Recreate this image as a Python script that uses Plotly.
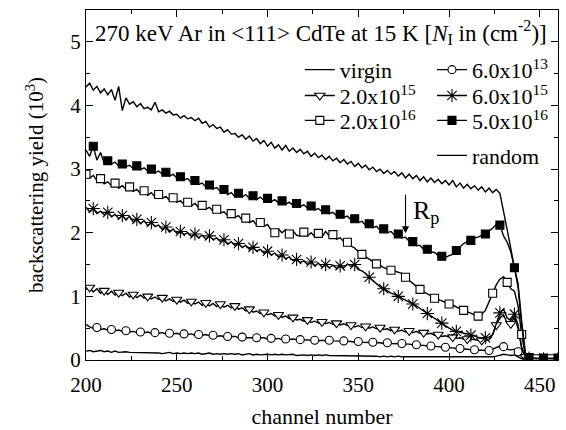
import plotly.graph_objects as go

channels = list(range(200, 462, 2))

random_ = [4.29, 4.35, 4.24, 4.30, 4.20, 4.26, 4.17, 4.25, 4.08, 4.30,
           3.92, 4.12, 4.02, 4.06, 3.98, 4.03, 3.95, 3.97, 3.93, 4.05,
           3.90, 3.93, 3.88, 3.91, 3.85, 3.86, 3.80, 3.84, 3.79, 3.81,
           3.76, 3.80, 3.72, 3.75, 3.66, 3.70, 3.64, 3.66, 3.58, 3.62,
           3.55, 3.56, 3.50, 3.54, 3.47, 3.52, 3.44, 3.48, 3.40, 3.45,
           3.36, 3.42, 3.33, 3.38, 3.30, 3.37, 3.28, 3.33, 3.26, 3.31,
           3.24, 3.28, 3.20, 3.25, 3.18, 3.22, 3.15, 3.20, 3.13, 3.17,
           3.10, 3.15, 3.08, 3.12, 3.04, 3.09, 3.02, 3.06, 2.99, 3.03,
           2.96, 3.00, 2.93, 2.98, 2.92, 2.96, 2.89, 2.94, 2.86, 2.92,
           2.85, 2.90, 2.82, 2.88, 2.80, 2.86, 2.79, 2.84, 2.77, 2.82,
           2.75, 2.82, 2.72, 2.78, 2.70, 2.76, 2.69, 2.74, 2.67, 2.72,
           2.64, 2.70, 2.63, 2.68, 2.62, 2.35, 2.05, 1.75, 1.45, 1.15,
           0.55, 0.10, 0.03, 0.02, 0.02, 0.02, 0.02, 0.02, 0.02, 0.02,
           0.02]

f5e16 = [3.30, 3.20, 3.36, 3.14, 3.26, 3.10, 3.13, 3.08, 3.11, 3.05,
         3.08, 3.04, 3.06, 3.01, 3.05, 2.99, 3.02, 2.97, 3.00, 2.94,
         2.97, 2.92, 2.95, 2.89, 2.92, 2.86, 2.88, 2.83, 2.85, 2.79,
         2.82, 2.76, 2.78, 2.72, 2.75, 2.69, 2.71, 2.65, 2.68, 2.60,
         2.63, 2.57, 2.62, 2.56, 2.60, 2.54, 2.58, 2.52, 2.56, 2.51,
         2.54, 2.49, 2.52, 2.47, 2.50, 2.45, 2.48, 2.43, 2.46, 2.41,
         2.44, 2.39, 2.42, 2.36, 2.38, 2.33, 2.36, 2.30, 2.32, 2.27,
         2.29, 2.24, 2.26, 2.20, 2.22, 2.16, 2.18, 2.12, 2.14, 2.08,
         2.10, 2.04, 2.06, 2.00, 2.02, 1.96, 1.98, 1.92, 1.93, 1.87,
         1.86, 1.80, 1.80, 1.74, 1.74, 1.70, 1.69, 1.64, 1.63, 1.61,
         1.64, 1.66, 1.72, 1.77, 1.83, 1.86, 1.88, 1.92, 1.93, 1.96,
         1.98, 2.03, 2.07, 2.13, 2.12, 1.95, 1.85, 1.70, 1.45, 1.20,
         0.60, 0.12, 0.04, 0.03, 0.03, 0.03, 0.03, 0.03, 0.03, 0.03,
         0.03]

s2e16 = [2.92, 2.86, 2.90, 2.82, 2.85, 2.77, 2.80, 2.74, 2.78, 2.70,
         2.74, 2.68, 2.72, 2.65, 2.68, 2.62, 2.66, 2.59, 2.63, 2.56,
         2.60, 2.54, 2.57, 2.51, 2.55, 2.48, 2.50, 2.45, 2.48, 2.42,
         2.46, 2.40, 2.43, 2.37, 2.40, 2.34, 2.37, 2.31, 2.33, 2.27,
         2.30, 2.24, 2.27, 2.20, 2.23, 2.16, 2.19, 2.12, 2.16, 2.10,
         2.13, 2.04, 2.00, 2.06, 2.00, 2.05, 1.98, 2.03, 1.96, 1.95,
         2.01, 1.95, 2.00, 1.94, 1.99, 1.93, 2.02, 1.95, 1.97, 1.90,
         1.92, 1.86, 1.85, 1.79, 1.76, 1.70, 1.66, 1.62, 1.58, 1.55,
         1.51, 1.49, 1.45, 1.43, 1.41, 1.40, 1.38, 1.36, 1.30, 1.25,
         1.21, 1.16, 1.11, 1.07, 1.04, 1.00, 0.97, 0.95, 0.93, 0.90,
         0.88, 0.86, 0.83, 0.80, 0.78, 0.76, 0.73, 0.71, 0.69, 0.72,
         0.78, 0.92, 1.05, 1.18, 1.27, 1.31, 1.22, 1.12, 1.08, 0.85,
         0.40, 0.08, 0.03, 0.02, 0.02, 0.02, 0.02, 0.02, 0.02, 0.02,
         0.02]

a6e15 = [2.40, 2.33, 2.38, 2.30, 2.34, 2.28, 2.32, 2.25, 2.29, 2.22,
         2.27, 2.20, 2.26, 2.17, 2.21, 2.14, 2.19, 2.11, 2.16, 2.10,
         2.12, 2.05, 2.09, 2.01, 2.06, 1.99, 2.02, 1.97, 2.00, 1.94,
         1.98, 1.92, 1.96, 1.90, 1.95, 1.89, 1.92, 1.86, 1.89, 1.82,
         1.86, 1.80, 1.83, 1.77, 1.80, 1.74, 1.77, 1.71, 1.74, 1.68,
         1.71, 1.65, 1.68, 1.62, 1.65, 1.59, 1.62, 1.56, 1.58, 1.53,
         1.56, 1.50, 1.54, 1.48, 1.52, 1.46, 1.50, 1.45, 1.49, 1.44,
         1.48, 1.45, 1.51, 1.47, 1.50, 1.42, 1.40, 1.36, 1.30, 1.25,
         1.20, 1.15, 1.12, 1.08, 1.05, 1.03, 1.00, 0.98, 0.95, 0.91,
         0.88, 0.85, 0.81, 0.77, 0.73, 0.70, 0.66, 0.62, 0.58, 0.54,
         0.50, 0.47, 0.45, 0.43, 0.42, 0.41, 0.39, 0.37, 0.35, 0.34,
         0.35, 0.36, 0.40, 0.58, 0.74, 0.80, 0.66, 0.62, 0.72, 0.55,
         0.20, 0.05, 0.03, 0.02, 0.02, 0.02, 0.02, 0.02, 0.02, 0.02,
         0.02]

t2e15 = [1.11, 1.14, 1.07, 1.12, 1.05, 1.09, 1.03, 1.08, 1.02, 1.06,
         1.01, 1.05, 0.99, 1.03, 0.98, 1.02, 0.97, 1.00, 0.96, 0.99,
         0.95, 0.98, 0.93, 0.96, 0.92, 0.95, 0.91, 0.94, 0.89, 0.92,
         0.88, 0.91, 0.86, 0.90, 0.85, 0.89, 0.84, 0.88, 0.83, 0.86,
         0.82, 0.85, 0.80, 0.82, 0.77, 0.80, 0.75, 0.77, 0.73, 0.75,
         0.71, 0.73, 0.69, 0.71, 0.67, 0.69, 0.65, 0.67, 0.63, 0.64,
         0.61, 0.63, 0.59, 0.61, 0.58, 0.60, 0.57, 0.59, 0.56, 0.58,
         0.55, 0.57, 0.54, 0.55, 0.52, 0.54, 0.51, 0.53, 0.50, 0.52,
         0.49, 0.51, 0.48, 0.49, 0.46, 0.48, 0.45, 0.47, 0.44, 0.46,
         0.43, 0.45, 0.42, 0.43, 0.41, 0.42, 0.39, 0.40, 0.37, 0.38,
         0.36, 0.36, 0.34, 0.35, 0.33, 0.33, 0.32, 0.32, 0.31, 0.31,
         0.30, 0.32, 0.40, 0.55, 0.66, 0.71, 0.58, 0.57, 0.68, 0.50,
         0.18, 0.05, 0.02, 0.02, 0.02, 0.02, 0.02, 0.02, 0.02, 0.02,
         0.02]

c6e13 = [0.56, 0.52, 0.50, 0.51, 0.48, 0.49, 0.47, 0.48, 0.46, 0.47,
         0.45, 0.46, 0.44, 0.45, 0.43, 0.44, 0.43, 0.44, 0.42, 0.43,
         0.42, 0.43, 0.41, 0.42, 0.41, 0.42, 0.40, 0.41, 0.40, 0.41,
         0.39, 0.40, 0.39, 0.40, 0.38, 0.39, 0.37, 0.38, 0.37, 0.37,
         0.36, 0.37, 0.35, 0.36, 0.35, 0.35, 0.34, 0.35, 0.34, 0.35,
         0.33, 0.34, 0.33, 0.34, 0.32, 0.33, 0.32, 0.33, 0.32, 0.32,
         0.31, 0.32, 0.31, 0.31, 0.30, 0.31, 0.30, 0.31, 0.30, 0.30,
         0.29, 0.30, 0.29, 0.29, 0.28, 0.29, 0.28, 0.28, 0.27, 0.28,
         0.27, 0.27, 0.26, 0.27, 0.26, 0.26, 0.25, 0.26, 0.25, 0.25,
         0.24, 0.24, 0.23, 0.23, 0.22, 0.22, 0.21, 0.21, 0.20, 0.20,
         0.19, 0.19, 0.18, 0.18, 0.17, 0.17, 0.16, 0.16, 0.15, 0.15,
         0.15, 0.15, 0.17, 0.20, 0.22, 0.21, 0.17, 0.16, 0.17, 0.13,
         0.06, 0.02, 0.02, 0.02, 0.02, 0.02, 0.02, 0.02, 0.02, 0.02,
         0.02]

virgin = [0.14, 0.15, 0.13, 0.14, 0.15, 0.13, 0.14, 0.12, 0.14, 0.12,
          0.13, 0.13, 0.12, 0.12, 0.11, 0.12, 0.11, 0.12, 0.11, 0.12,
          0.11, 0.10, 0.11, 0.12, 0.10, 0.11, 0.10, 0.11, 0.10, 0.11,
          0.10, 0.11, 0.09, 0.10, 0.11, 0.09, 0.10, 0.09, 0.10, 0.09,
          0.10, 0.09, 0.10, 0.08, 0.09, 0.10, 0.08, 0.09, 0.08, 0.09,
          0.09, 0.08, 0.09, 0.08, 0.09, 0.08, 0.08, 0.09, 0.07, 0.08,
          0.08, 0.07, 0.08, 0.07, 0.08, 0.07, 0.08, 0.07, 0.07, 0.06,
          0.07, 0.06, 0.07, 0.06, 0.07, 0.06, 0.06, 0.07, 0.06, 0.06,
          0.06, 0.05, 0.06, 0.05, 0.06, 0.05, 0.06, 0.05, 0.05, 0.05,
          0.05, 0.05, 0.04, 0.05, 0.05, 0.04, 0.05, 0.04, 0.05, 0.04,
          0.04, 0.05, 0.04, 0.04, 0.05, 0.04, 0.04, 0.05, 0.04, 0.04,
          0.05, 0.04, 0.05, 0.06, 0.08, 0.09, 0.08, 0.07, 0.08, 0.05,
          0.02, 0.01, 0.01, 0.01, 0.01, 0.01, 0.01, 0.01, 0.01, 0.01,
          0.01]

x_ticks = [200, 250, 300, 350, 400, 450]
y_ticks = [0, 1, 2, 3, 4, 5]

FONT = "Liberation Serif"
BLACK = "black"

# name, data, marker symbol, marker fill, marker size, legend id, marker offset
series = [
    ("virgin", virgin, None, None, 0, "legend", 0),
    ("6.0x10<sup>13</sup>", c6e13, "circle", "white", 8, "legend2", 3),
    ("2.0x10<sup>15</sup>", t2e15, "triangle-down", "white", 9, "legend3", 1),
    ("6.0x10<sup>15</sup>", a6e15, "asterisk-open", BLACK, 11, "legend4", 2),
    ("2.0x10<sup>16</sup>", s2e16, "square", "white", 8, "legend5", 0),
    ("5.0x10<sup>16</sup>", f5e16, "square", BLACK, 8, "legend6", 2),
    ("random", random_, None, None, 0, "legend7", 0),
]

fig = go.Figure()
for name, ys, sym, fill, msize, leg, off in series:
    fig.add_trace(go.Scatter(x=channels, y=ys, mode="lines",
                             line=dict(color=BLACK, width=1.4),
                             showlegend=False, hoverinfo="skip"))
    if sym:
        mk = dict(symbol=sym, size=msize, color=fill, line=dict(color=BLACK, width=1.1))
        fig.add_trace(go.Scatter(x=channels[off::4], y=ys[off::4], mode="markers",
                                 marker=mk, showlegend=False, hoverinfo="skip"))
        fig.add_trace(go.Scatter(x=[None], y=[None], mode="lines+markers", name=name,
                                 line=dict(color=BLACK, width=1.4), marker=mk, legend=leg))
    else:
        fig.add_trace(go.Scatter(x=[None], y=[None], mode="lines", name=name,
                                 line=dict(color=BLACK, width=1.4), legend=leg))

axis_common = dict(showline=True, linecolor=BLACK, linewidth=1.2, mirror="ticks",
                   ticks="inside", ticklen=7, tickcolor=BLACK, tickwidth=1.2,
                   showgrid=False, zeroline=False, automargin=False,
                   tickfont=dict(family=FONT, size=21, color=BLACK))

fig.update_xaxes(range=[200, 460], tickvals=x_ticks, ticklabelstandoff=6,
                 minor=dict(dtick=25, tick0=200, ticks="inside", ticklen=4, tickcolor=BLACK),
                 title=dict(text="channel number", font=dict(family=FONT, size=22, color=BLACK),
                            standoff=12),
                 **axis_common)
fig.update_yaxes(range=[0, 5.5], tickvals=y_ticks,
                 minor=dict(dtick=0.5, tick0=0, ticks="inside", ticklen=4, tickcolor=BLACK),
                 title=dict(text="backscattering yield (10<sup>3</sup>)",
                            font=dict(family=FONT, size=21, color=BLACK), standoff=20),
                 **axis_common)

# legend slot positions (paper coords): two columns, four rows
col_x = [0.453, 0.733]
row_y = [0.829, 0.755, 0.684, 0.584]
slots = {"legend": (0, 0), "legend2": (1, 0), "legend3": (0, 1), "legend4": (1, 1),
         "legend5": (0, 2), "legend6": (1, 2), "legend7": (1, 3)}
legends = {}
for key, (c, r) in slots.items():
    legends[key] = dict(x=col_x[c], y=row_y[r], xanchor="left", yanchor="middle",
                        bgcolor="rgba(0,0,0,0)", borderwidth=0,
                        font=dict(family=FONT, size=22, color=BLACK), itemwidth=30)

fig.update_layout(
    width=566, height=430,
    margin=dict(l=86, r=8, t=10, b=70),
    plot_bgcolor="white", paper_bgcolor="white",
    **legends,
    annotations=[
        dict(text="270 keV Ar in &lt;111&gt; CdTe at 15 K [<i>N</i><sub>I</sub> in (cm<sup>-2</sup>)]",
             xref="paper", yref="paper", x=0.015, y=0.936, xanchor="left", yanchor="middle",
             showarrow=False, font=dict(family=FONT, size=23, color=BLACK)),
        dict(text="", x=376, y=1.99, ax=376, ay=2.62, xref="x", yref="y",
             axref="x", ayref="y", showarrow=True, arrowhead=2, arrowsize=1.3,
             arrowwidth=1.1, arrowcolor=BLACK),
        dict(text="R<sub>p</sub>", x=379, y=2.33, xref="x", yref="y", xanchor="left",
             yanchor="middle", showarrow=False, font=dict(family=FONT, size=26, color=BLACK)),
    ],
)

fig.write_html("out.html")
